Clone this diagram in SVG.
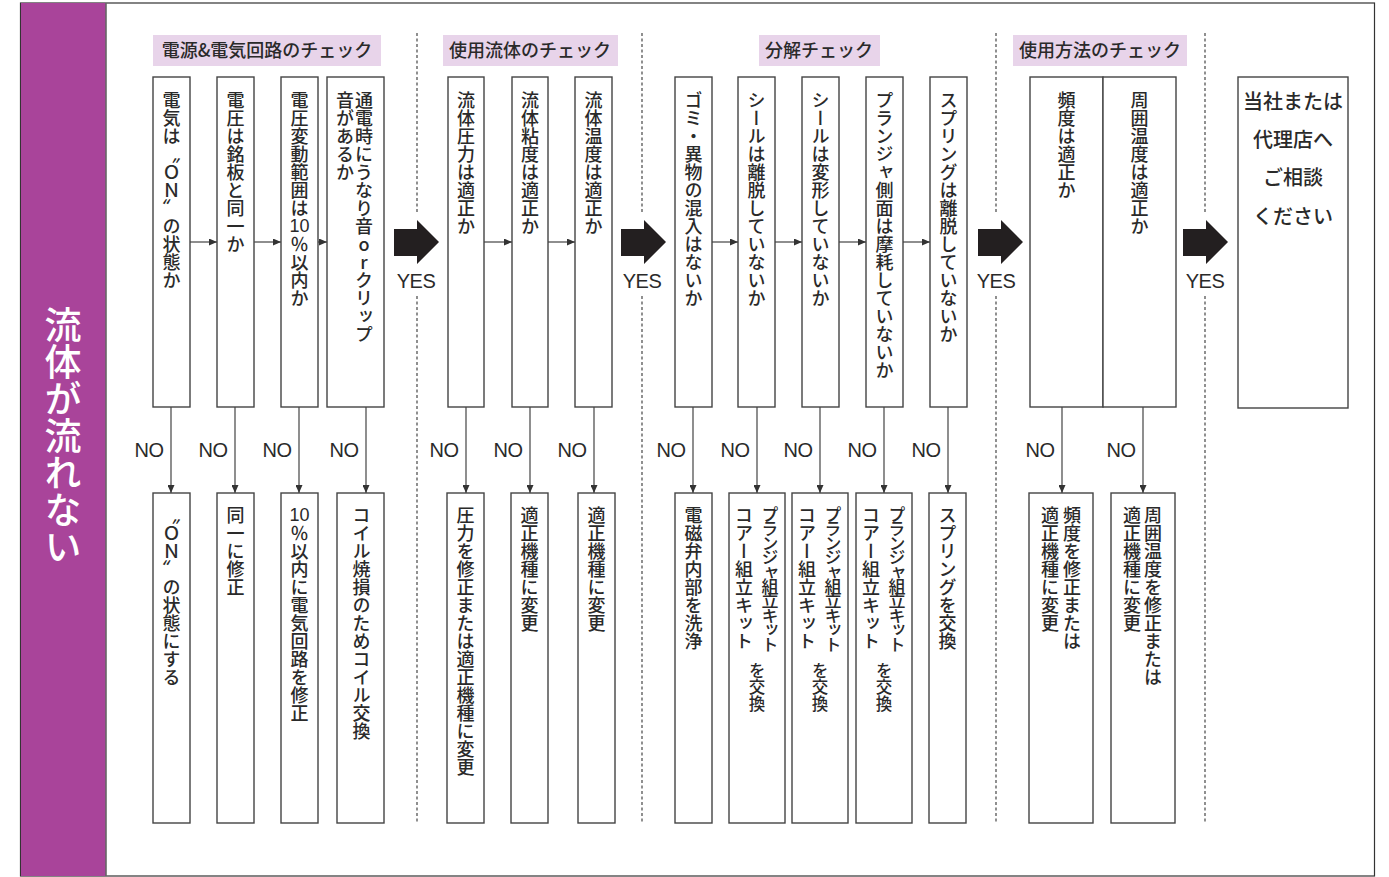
<svg xmlns="http://www.w3.org/2000/svg" width="1389" height="877" viewBox="0 0 1389 877">
<defs>
<style>
.box{fill:#fff;stroke:#444;stroke-width:1.4}
.hdr{fill:#E8D4EA}
.ht{font-family:"Noto Sans CJK JP","Noto Sans CJK SC",sans-serif;font-size:18px;font-weight:500;fill:#2a2a2a;text-anchor:middle}
.vt{font-family:"Noto Sans CJK JP","Noto Sans CJK SC",sans-serif;font-size:18px;font-weight:500;fill:#2a2a2a;writing-mode:vertical-rl}
.hz{font-family:"Liberation Sans",Arial,sans-serif;font-size:18px;fill:#2a2a2a;text-anchor:middle}
.jt{font-family:"Noto Sans CJK JP","Noto Sans CJK SC",sans-serif;font-size:20px;font-weight:500;fill:#2a2a2a;text-anchor:middle}
.lbl{font-family:"Liberation Sans",Arial,sans-serif;font-size:20px;fill:#2a2a2a;text-anchor:middle;letter-spacing:-0.5px}
.arr{stroke:#444;stroke-width:1.2;fill:none;marker-end:url(#ah)}
.dot{stroke:#555;stroke-width:1.3;stroke-dasharray:3 2.5;fill:none}
.big{fill:#231F20}
</style>
<marker id="ah" markerWidth="8" markerHeight="7" refX="8" refY="3.5" orient="auto" markerUnits="userSpaceOnUse"><path d="M0,0 L8,3.5 L0,7z" fill="#333"/></marker>
</defs>
<rect x="0" y="0" width="1389" height="877" fill="#fff"/>
<rect x="20.5" y="3" width="1354" height="873" fill="none" stroke="#333" stroke-width="1.2"/>
<g id="title">
<rect x="21" y="3" width="85" height="873" fill="#A9449A"/>
<line x1="106" y1="3" x2="106" y2="876" stroke="#666" stroke-width="1.6"/>
<text x="63" y="306" style="font-family:'Noto Sans CJK JP','Noto Sans CJK SC',sans-serif;font-size:37px;font-weight:500;fill:#fff;writing-mode:vertical-rl">流体が流れない</text>
</g>
<g id="headers">
<rect class="hdr" x="153" y="35" width="228" height="31"/><text class="ht" x="267" y="57">電源&amp;電気回路のチェック</text>
<rect class="hdr" x="443" y="35" width="175" height="31"/><text class="ht" x="530" y="57">使用流体のチェック</text>
<rect class="hdr" x="759" y="35" width="121" height="31"/><text class="ht" x="819" y="57">分解チェック</text>
<rect class="hdr" x="1013" y="35" width="174" height="31"/><text class="ht" x="1100" y="57">使用方法のチェック</text>
</g>
<g id="separators">
<path class="dot" d="M417,33V213M417,296V823M642,33V213M642,296V823M996,33V213M996,296V823M1205,33V213M1205,296V823"/>
</g>
<g id="connectors">
<path class="arr" d="M190,242H217"/>
<path class="arr" d="M254,242H281"/>
<path class="arr" d="M318,242H327"/>
<path class="arr" d="M484,242H512"/>
<path class="arr" d="M548,242H575"/>
<path class="arr" d="M712,242H738"/>
<path class="arr" d="M775,242H802"/>
<path class="arr" d="M839,242H866"/>
<path class="arr" d="M903,242H930"/>
<path class="arr" d="M171,407V493"/>
<path class="arr" d="M235,407V493"/>
<path class="arr" d="M299,407V493"/>
<path class="arr" d="M366,407V493"/>
<path class="arr" d="M466,407V493"/>
<path class="arr" d="M530,407V493"/>
<path class="arr" d="M594,407V493"/>
<path class="arr" d="M693,407V493"/>
<path class="arr" d="M757,407V493"/>
<path class="arr" d="M820,407V493"/>
<path class="arr" d="M884,407V493"/>
<path class="arr" d="M948,407V493"/>
<path class="arr" d="M1062,407V493"/>
<path class="arr" d="M1143,407V493"/>
<path class="big" d="M394,229H417V220L439,242L417,264V256H394Z"/>
<path class="big" d="M621,229H644V220L666,242L644,264V256H621Z"/>
<path class="big" d="M978,229H1001V220L1023,242L1001,264V256H978Z"/>
<path class="big" d="M1183,229H1206V220L1228,242L1206,264V256H1183Z"/>
<text class="lbl" x="416" y="288">YES</text>
<text class="lbl" x="642" y="288">YES</text>
<text class="lbl" x="996" y="288">YES</text>
<text class="lbl" x="1205" y="288">YES</text>
<text class="lbl" x="149" y="457">NO</text>
<text class="lbl" x="213" y="457">NO</text>
<text class="lbl" x="277" y="457">NO</text>
<text class="lbl" x="344" y="457">NO</text>
<text class="lbl" x="444" y="457">NO</text>
<text class="lbl" x="508" y="457">NO</text>
<text class="lbl" x="572" y="457">NO</text>
<text class="lbl" x="671" y="457">NO</text>
<text class="lbl" x="735" y="457">NO</text>
<text class="lbl" x="798" y="457">NO</text>
<text class="lbl" x="862" y="457">NO</text>
<text class="lbl" x="926" y="457">NO</text>
<text class="lbl" x="1040" y="457">NO</text>
<text class="lbl" x="1121" y="457">NO</text>
</g>
<g id="q1"><rect class="box" x="153" y="77" width="37" height="330"/><text class="vt" x="171.5" y="91">電気は〝ＯＮ〟の状態か</text></g>
<g id="q2"><rect class="box" x="217" y="77" width="37" height="330"/><text class="vt" x="235.5" y="91">電圧は銘板と同一か</text></g>
<g id="q3"><rect class="box" x="281" y="77" width="37" height="330"/><text class="vt" x="299.5" y="91">電圧変動範囲は</text><text class="hz" x="299.5" y="232">10</text><text class="vt" x="299.5" y="235">％以内か</text></g>
<g id="q4"><rect class="box" x="327" y="77" width="57" height="330"/><text class="vt" x="364" y="91" style="text-orientation:upright">通電時にうなり音orクリップ</text><text class="vt" x="345" y="91">音があるか</text></g>
<g id="q5"><rect class="box" x="448" y="77" width="36" height="330"/><text class="vt" x="466" y="91">流体圧力は適正か</text></g>
<g id="q6"><rect class="box" x="512" y="77" width="36" height="330"/><text class="vt" x="530" y="91">流体粘度は適正か</text></g>
<g id="q7"><rect class="box" x="575" y="77" width="37" height="330"/><text class="vt" x="593.5" y="91">流体温度は適正か</text></g>
<g id="q8"><rect class="box" x="675" y="77" width="37" height="330"/><text class="vt" x="693.5" y="91">ゴミ・異物の混入はないか</text></g>
<g id="q9"><rect class="box" x="738" y="77" width="37" height="330"/><text class="vt" x="756.5" y="91">シールは離脱していないか</text></g>
<g id="q10"><rect class="box" x="802" y="77" width="37" height="330"/><text class="vt" x="820.5" y="91">シールは変形していないか</text></g>
<g id="q11"><rect class="box" x="866" y="77" width="37" height="330"/><text class="vt" x="884.5" y="91">プランジャ側面は摩耗していないか</text></g>
<g id="q12"><rect class="box" x="930" y="77" width="37" height="330"/><text class="vt" x="948.5" y="91">スプリングは離脱していないか</text></g>
<g id="q13"><rect class="box" x="1030" y="77" width="73" height="330"/><text class="vt" x="1066.5" y="91">頻度は適正か</text></g>
<g id="q14"><rect class="box" x="1103" y="77" width="73" height="330"/><text class="vt" x="1139.5" y="91">周囲温度は適正か</text></g>
<g id="end"><rect class="box" x="1238" y="77" width="110" height="331"/>
<text class="jt" x="1293" y="109">当社または</text><text class="jt" x="1293" y="147">代理店へ</text><text class="jt" x="1293" y="185">ご相談</text><text class="jt" x="1293" y="224">ください</text></g>
<g id="a1"><rect class="box" x="153" y="493" width="37" height="330"/><text class="vt" x="171.5" y="506">〝ＯＮ〟の状態にする</text></g>
<g id="a2"><rect class="box" x="217" y="493" width="37" height="330"/><text class="vt" x="235.5" y="506">同一に修正</text></g>
<g id="a3"><rect class="box" x="281" y="493" width="37" height="330"/><text class="hz" x="299.5" y="521">10</text><text class="vt" x="299.5" y="524">％以内に電気回路を修正</text></g>
<g id="a4"><rect class="box" x="337" y="493" width="47" height="330"/><text class="vt" x="361.5" y="506">コイル焼損のためコイル交換</text></g>
<g id="a5"><rect class="box" x="447" y="493" width="37" height="330"/><text class="vt" x="465.5" y="506">圧力を修正または適正機種に変更</text></g>
<g id="a6"><rect class="box" x="511" y="493" width="37" height="330"/><text class="vt" x="529.5" y="506">適正機種に変更</text></g>
<g id="a7"><rect class="box" x="578" y="493" width="37" height="330"/><text class="vt" x="596.5" y="506">適正機種に変更</text></g>
<g id="a8"><rect class="box" x="675" y="493" width="37" height="330"/><text class="vt" x="693.5" y="506">電磁弁内部を洗浄</text></g>
<g id="a9"><rect class="box" x="729" y="493" width="56" height="330"/><text class="vt" x="770" y="506" style="font-size:17px;letter-spacing:-2.6px">プランジャ組立キット</text><text class="vt" x="744" y="506">コアー組立キット</text><text class="vt" x="757" y="662" style="font-size:16.5px">を交換</text></g>
<g id="a10"><rect class="box" x="792" y="493" width="56" height="330"/><text class="vt" x="833" y="506" style="font-size:17px;letter-spacing:-2.6px">プランジャ組立キット</text><text class="vt" x="807" y="506">コアー組立キット</text><text class="vt" x="820" y="662" style="font-size:16.5px">を交換</text></g>
<g id="a11"><rect class="box" x="856" y="493" width="56" height="330"/><text class="vt" x="897" y="506" style="font-size:17px;letter-spacing:-2.6px">プランジャ組立キット</text><text class="vt" x="871" y="506">コアー組立キット</text><text class="vt" x="884" y="662" style="font-size:16.5px">を交換</text></g>
<g id="a12"><rect class="box" x="929" y="493" width="37" height="330"/><text class="vt" x="947.5" y="506">スプリングを交換</text></g>
<g id="a13"><rect class="box" x="1029" y="493" width="64" height="330"/><text class="vt" x="1072" y="506">頻度を修正または</text><text class="vt" x="1050" y="506">適正機種に変更</text></g>
<g id="a14"><rect class="box" x="1111" y="493" width="64" height="330"/><text class="vt" x="1153" y="506">周囲温度を修正または</text><text class="vt" x="1132" y="506">適正機種に変更</text></g>
</svg>
